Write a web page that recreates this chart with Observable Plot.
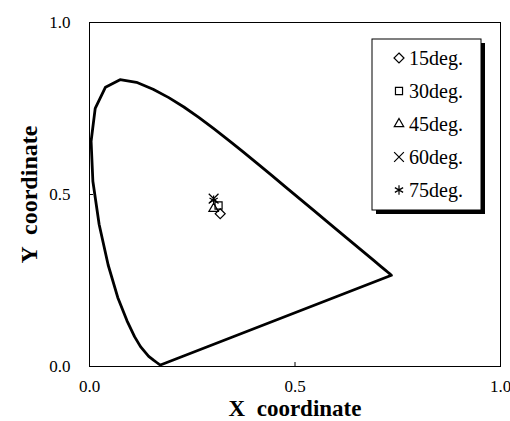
<!DOCTYPE html>
<html>
<head>
<meta charset="utf-8">
<script src="https://cdn.jsdelivr.net/npm/d3@7"></script>
<script src="https://cdn.jsdelivr.net/npm/@observablehq/plot@0.6"></script>
<style>
  html, body { margin: 0; padding: 0; background: #fff; }
  #chart { width: 510px; height: 421px; }
</style>
</head>
<body>
<div id="chart"></div>
<script>
// Spectral locus (horseshoe)
const locusX = [0.1741, 0.1733, 0.1714, 0.1689, 0.1644, 0.1566, 0.1440, 0.1241, 0.1096, 0.0913, 0.0687, 0.0454, 0.0235, 0.0082, 0.0039, 0.0139, 0.0389, 0.0743, 0.1142, 0.1547, 0.1929, 0.2296, 0.2658, 0.3016, 0.3373, 0.3731, 0.4087, 0.4441, 0.4788, 0.5125, 0.5448, 0.5752, 0.6029, 0.6270, 0.6658, 0.6915, 0.7079, 0.7190, 0.7260, 0.7300, 0.7347, 0.1741];
const locusY = [0.0050, 0.0048, 0.0051, 0.0069, 0.0109, 0.0177, 0.0297, 0.0578, 0.0868, 0.1327, 0.2007, 0.2950, 0.4127, 0.5384, 0.6548, 0.7502, 0.8120, 0.8338, 0.8262, 0.8059, 0.7816, 0.7543, 0.7243, 0.6923, 0.6589, 0.6245, 0.5896, 0.5547, 0.5202, 0.4866, 0.4544, 0.4242, 0.3965, 0.3725, 0.3340, 0.3083, 0.2920, 0.2809, 0.2740, 0.2700, 0.2653, 0.0050];

// Measured points
const seriesNames = ["15deg.", "30deg.", "45deg.", "60deg.", "75deg."];
const seriesX = [0.318, 0.314, 0.302, 0.302, 0.302];
const seriesY = [0.444, 0.468, 0.459, 0.488, 0.483];
const seriesSymbols = ["diamond2", "square2", "triangle2", "times", "asterisk"];

const xTicks = [0, 0.5, 1.0];
const yTicks = [0, 0.5, 1.0];
const xTitle = "X  coordinate";
const yTitle = "Y  coordinate";

const locus = locusX.map((x, i) => ({x, y: locusY[i]}));
const points = seriesNames.map((name, i) => ({name, x: seriesX[i], y: seriesY[i], symbol: seriesSymbols[i]}));

const FONT = "'Liberation Serif', 'Times New Roman', serif";

const chart = Plot.plot({
  width: 510,
  height: 421,
  marginLeft: 89,
  marginRight: 10,
  marginTop: 22,
  marginBottom: 55,
  style: {fontFamily: FONT, background: "#fff", color: "#000"},
  x: {domain: [0, 1]},
  y: {domain: [0, 1]},
  marks: [
    Plot.frame({stroke: "#000", strokeWidth: 1}),
    Plot.axisX({ticks: xTicks, tickFormat: d3.format(".1f"), tickSize: -4, tickPadding: 17, fontSize: 17, label: null, stroke: "#000"}),
    Plot.axisY({ticks: yTicks, tickFormat: d3.format(".1f"), tickSize: -4, tickPadding: 23, fontSize: 17, label: null, stroke: "#000"}),
    Plot.line(locus, {x: "x", y: "y", stroke: "#000", strokeWidth: 2.8, strokeLinejoin: "round"}),
    Plot.dot(points, {x: "x", y: "y", symbol: "symbol", r: 4.5, stroke: "#000", strokeWidth: 1.2, fill: "none"}),
    Plot.text([xTitle], {frameAnchor: "bottom", textAnchor: "middle", lineAnchor: "middle", dy: 42.5, fontSize: 23, fontWeight: "bold", fill: "#000"}),
    Plot.text([yTitle], {frameAnchor: "left", textAnchor: "middle", lineAnchor: "middle", dx: -60, rotate: -90, fontSize: 24, fontWeight: "bold", fill: "#000"})
  ]
});
chart.setAttribute("font-family", FONT);
document.getElementById("chart").appendChild(chart);

// Legend box with drop shadow
const svg = d3.select(chart);
const box = {x: 372, y: 39, w: 109, h: 171, shadow: 4};
const lg = svg.append("g").attr("text-anchor", "start");
lg.append("rect").attr("x", box.x + box.shadow).attr("y", box.y + box.shadow)
  .attr("width", box.w).attr("height", box.h).attr("fill", "#000");
lg.append("rect").attr("x", box.x).attr("y", box.y)
  .attr("width", box.w).attr("height", box.h).attr("fill", "#fff").attr("stroke", "#000").attr("stroke-width", 1);
const symMap = {diamond2: d3.symbolDiamond2, square2: d3.symbolSquare2, triangle2: d3.symbolTriangle2, times: d3.symbolTimes, asterisk: d3.symbolAsterisk};
points.forEach((p, i) => {
  const cy = box.y + 19 + i * 33;
  lg.append("path").attr("d", d3.symbol(symMap[p.symbol], Math.PI * 4.5 * 4.5)())
    .attr("transform", `translate(${box.x + 27},${cy})`)
    .attr("fill", "none").attr("stroke", "#000").attr("stroke-width", 1.2);
  lg.append("text").attr("x", box.x + 37).attr("y", cy).attr("dy", "0.35em")
    .attr("text-anchor", "start")
    .attr("font-size", 20).attr("font-family", FONT).attr("fill", "#000").text(p.name);
});
</script>
</body>
</html>
